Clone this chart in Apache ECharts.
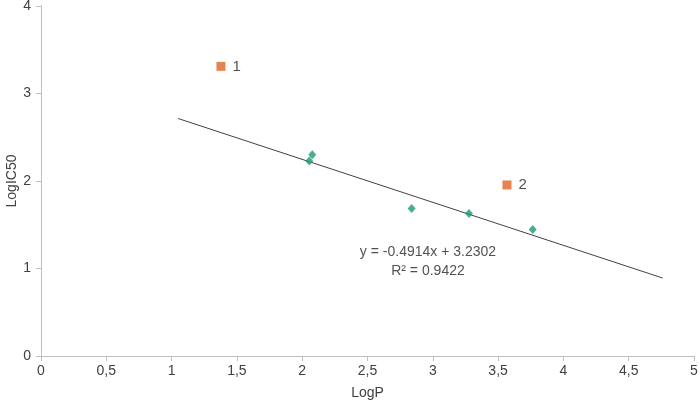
<!DOCTYPE html>
<html>
<head>
<meta charset="utf-8">
<script src="https://cdn.jsdelivr.net/npm/echarts@6/dist/echarts.min.js"></script>
<style>html,body{margin:0;padding:0;background:#fff}#c{width:699px;height:405px}</style>
</head>
<body>
<div id="c"></div>
<script>
var compounds = [[2.054, 2.23], [2.077, 2.30], [2.838, 1.686], [3.277, 1.63], [3.765, 1.445]];
var outliers = [[1.378, 3.31], [3.568, 1.955]];
var outlierLabels = ['1', '2'];
var slope = -0.4914, intercept = 3.2302, r2 = 0.9422;
var trendRange = [1.05, 4.76];
var eqPos = [[2.963, 1.184], [2.963, 0.966]];
var eqText = ['y = -0.4914x + 3.2302', 'R\u00b2 = 0.9422'];

var chart = echarts.init(document.getElementById('c'));
var fontFam = 'Liberation Sans, Arial, sans-serif';
chart.setOption({
  animation: false,
  grid: {left: 41, right: 5, top: 6, bottom: 49, containLabel: false, outerBoundsMode: 'none'},
  xAxis: {
    type: 'value', min: 0, max: 5, interval: 0.5,
    name: 'LogP', nameLocation: 'middle', nameGap: 30, nameMoveOverlap: false,
    nameTextStyle: {color: '#404040', fontSize: 14, fontFamily: fontFam},
    axisLine: {lineStyle: {color: '#bfbfbf'}},
    axisTick: {show: true, length: 5, lineStyle: {color: '#bfbfbf'}},
    splitLine: {show: false},
    axisLabel: {color: '#404040', fontSize: 14, fontFamily: fontFam, margin: 8,
      formatter: function (v) { return String(v).replace('.', ','); }}
  },
  yAxis: {
    type: 'value', min: 0, max: 4, interval: 1,
    name: 'LogIC50', nameLocation: 'middle', nameGap: 22, nameMoveOverlap: false,
    nameTextStyle: {color: '#404040', fontSize: 14, fontFamily: fontFam},
    axisLine: {show: true, lineStyle: {color: '#bfbfbf'}},
    axisTick: {show: true, length: 5, lineStyle: {color: '#bfbfbf'}},
    splitLine: {show: false},
    axisLabel: {color: '#404040', fontSize: 14, fontFamily: fontFam, margin: 10}
  },
  series: [
    {
      type: 'line', data: trendRange.map(function (x) { return [x, slope * x + intercept]; }),
      symbol: 'none', lineStyle: {color: '#404040', width: 1}, z: 1
    },
    {
      type: 'scatter', data: compounds, symbol: 'diamond', symbolSize: [8, 9],
      itemStyle: {color: '#1c9a73'}, z: 3
    },
    {
      type: 'scatter', data: outliers.map(function (p, i) { return {value: p, name: outlierLabels[i]}; }),
      symbol: 'rect', symbolSize: 9, itemStyle: {color: '#df6426'}, z: 3,
      label: {show: true, position: 'right', distance: 7, formatter: '{b}', color: '#262626',
        fontSize: 15, fontFamily: fontFam}
    },
    {
      type: 'scatter', data: eqPos.map(function (p, i) { return {value: p, name: eqText[i]}; }),
      symbolSize: 0, silent: true,
      label: {show: true, position: 'inside', formatter: '{b}', color: '#262626',
        fontSize: 14, fontFamily: fontFam}
    }
  ]
});
</script>
</body>
</html>
